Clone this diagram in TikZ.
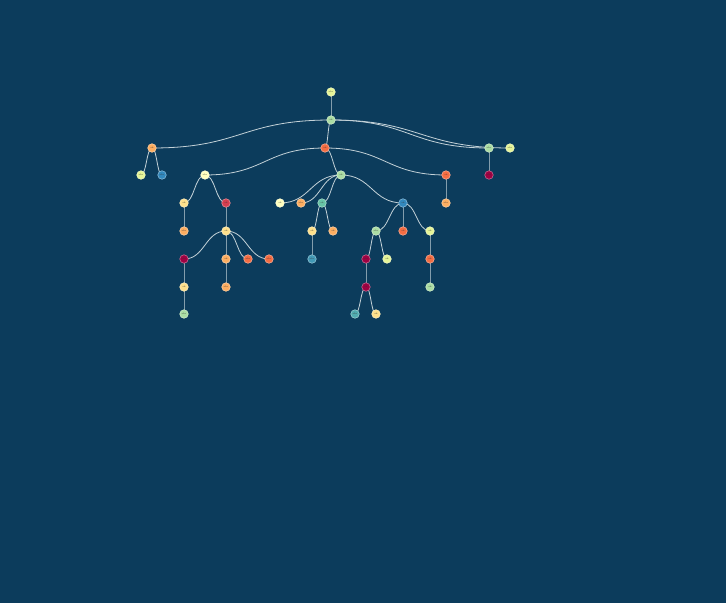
\documentclass[tikz,border=0pt]{standalone}
\usetikzlibrary{calc,backgrounds}
\definecolor{bg}{HTML}{0C3C5C}
\definecolor{lnk}{HTML}{C4D2D8}
\definecolor{sA}{HTML}{9E0142}
\definecolor{sB}{HTML}{D53E4F}
\definecolor{sC}{HTML}{F46D43}
\definecolor{sD}{HTML}{FDAE61}
\definecolor{sE}{HTML}{FEE08B}
\definecolor{sF}{HTML}{FFFFBF}
\definecolor{sG}{HTML}{E6F598}
\definecolor{sH}{HTML}{ABDDA4}
\definecolor{sI}{HTML}{66C2A5}
\definecolor{sJ}{HTML}{3288BD}
\tikzset{
  nd/.style={circle, fill=#1, draw=#1!60!white, line width=0.6pt, minimum size=8.5pt, inner sep=0pt,
    font=\fontsize{2.2}{2.5}\selectfont, text=black!80},
  link/.style={draw=lnk, line width=0.8pt}
}
\newcommand\lk[2]{\draw[link] let \p1=(#1.center), \p2=(#2.center) in (#1.center) .. controls ({(\x1+\x2)/2},\y1) and ({(\x1+\x2)/2},\y2) .. (#2.center);}
\begin{document}
\begin{tikzpicture}[x=1pt,y=-1pt]
\useasboundingbox (0,0) rectangle (726,603);
% nodes
\node[nd=sG] (a) at (331,92) {abc};
\node[nd=sH] (b) at (331,120) {ab};
\node[nd=sD] (c) at (152,148) {ab};
\node[nd=sC] (d) at (325,148) {ab};
\node[nd=sH] (e) at (489,148) {abc};
\node[nd=sG] (f) at (510,148) {abc};
\node[nd=sA] (e1) at (489,175) {abc};
\node[nd=sG] (c1) at (141,175) {abc};
\node[nd=sJ] (c2) at (162,175) {abc};
\node[nd=sF] (g) at (205,175) {abc};
\node[nd=sH] (h) at (341,175) {ab};
\node[nd=sC] (i) at (446,175) {ab};
\node[nd=sD] (i1) at (446,203) {abc};
\node[nd=sE] (g1) at (184,203) {ab};
\node[nd=sB] (g2) at (226,203) {ab};
\node[nd=sD] (g11) at (184,231) {abc};
\node[nd=sE] (j) at (226,231) {ab};
\node[nd=sA] (j1) at (184,259) {abc};
\node[nd=sD] (j2) at (226,259) {ab};
\node[nd=sC] (j3) at (248,259) {abc};
\node[nd=sC] (j4) at (269,259) {abc};
\node[nd=sE] (j11) at (184,287) {ab};
\node[nd=sH] (j111) at (184,314) {abc};
\node[nd=sD] (j21) at (226,287) {abc};
\node[nd=sF] (h1) at (280,203) {ab};
\node[nd=sD] (h2) at (301,203) {abc};
\node[nd=sI] (k) at (322,203) {ab};
\node[nd=sJ] (l) at (403,203) {ab};
\node[nd=sE] (k1) at (312,231) {ab};
\node[nd=sD] (k2) at (333,231) {ab};
\node[nd=sJ!70!sI] (k11) at (312,259) {abc};
\node[nd=sH] (m) at (376,231) {abc};
\node[nd=sC] (l2) at (403,231) {ab};
\node[nd=sG] (n) at (430,231) {ab};
\node[nd=sA] (o) at (366,259) {abc};
\node[nd=sG] (m2) at (387,259) {ab};
\node[nd=sA] (p) at (366,287) {ab};
\node[nd=sI!60!sJ] (p1) at (355,314) {abc};
\node[nd=sE] (p2) at (376,314) {ab};
\node[nd=sC] (n1) at (430,259) {ab};
\node[nd=sH] (n11) at (430,287) {ab};
% links
\begin{pgfonlayer}{background}
\fill[bg] (0,0) rectangle (726,603);
\lk{a}{b}
\lk{b}{c}\lk{b}{d}\lk{b}{e}\lk{b}{f}
\lk{e}{e1}
\lk{c}{c1}\lk{c}{c2}
\lk{d}{g}\lk{d}{h}\lk{d}{i}
\lk{i}{i1}
\lk{g}{g1}\lk{g}{g2}
\lk{g1}{g11}\lk{g2}{j}
\lk{j}{j1}\lk{j}{j2}\lk{j}{j3}\lk{j}{j4}
\lk{j1}{j11}\lk{j11}{j111}\lk{j2}{j21}
\lk{h}{h1}\lk{h}{h2}\lk{h}{k}\lk{h}{l}
\lk{k}{k1}\lk{k}{k2}\lk{k1}{k11}
\lk{l}{m}\lk{l}{l2}\lk{l}{n}
\lk{m}{o}\lk{m}{m2}\lk{o}{p}
\lk{p}{p1}\lk{p}{p2}
\lk{n}{n1}\lk{n1}{n11}
\end{pgfonlayer}
\end{tikzpicture}
\end{document}
